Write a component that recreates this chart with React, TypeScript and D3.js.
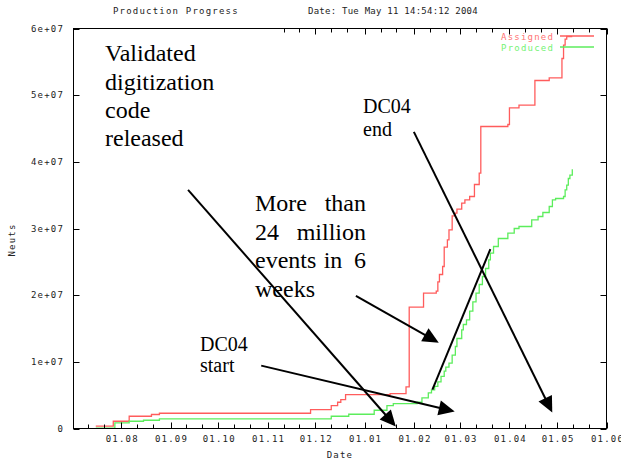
import React from "react";
import * as d3 from "d3";

const W = 621;
const H = 460;

// ---- data ----
const xDomain = ["2003-07-02", "2004-06-01"];
const yTickValues = [0, 1e7, 2e7, 3e7, 4e7, 5e7, 6e7];
const yTickLabels = ["0", "1e+07", "2e+07", "3e+07", "4e+07", "5e+07", "6e+07"];
const seriesNames = ["Assigned", "Produced"];

const assignedDates = [
  "2003-07-16", "2003-07-27", "2003-08-06", "2003-08-20", "2003-08-25", "2003-11-28",
  "2003-12-11", "2003-12-15", "2003-12-17", "2003-12-20", "2004-01-17", "2004-01-27",
  "2004-01-29", "2004-02-07", "2004-02-15", "2004-02-16", "2004-02-17", "2004-02-19",
  "2004-02-20", "2004-02-22", "2004-02-23", "2004-02-25", "2004-02-27", "2004-02-28",
  "2004-03-02", "2004-03-04", "2004-03-07", "2004-03-10", "2004-03-13", "2004-03-14",
  "2004-03-31", "2004-04-01", "2004-04-07", "2004-04-17", "2004-04-26", "2004-05-04",
  "2004-05-05", "2004-05-06", "2004-05-07", "2004-05-10T12:00Z",
];
const assignedValues = [
  0.35e6, 1.09e6, 1.84e6, 2.1e6, 2.29e6, 2.84e6,
  3.44e6, 3.94e6, 4.34e6, 5.09e6, 5.24e6, 6.24e6,
  18.2e6, 20.3e6, 20.6e6, 22.0e6, 23.1e6, 24.3e6,
  27.2e6, 28.3e6, 29.8e6, 31.9e6, 32.3e6, 32.9e6,
  33.8e6, 34.3e6, 34.8e6, 36.6e6, 38.3e6, 45.3e6,
  45.6e6, 48.1e6, 48.5e6, 52.2e6, 52.6e6, 55.5e6,
  57.5e6, 58.4e6, 58.8e6, 58.8e6,
];

const producedDates = [
  "2003-07-16", "2003-07-28", "2003-08-06", "2003-08-15", "2003-08-25", "2003-12-11",
  "2003-12-22", "2004-01-07", "2004-01-15", "2004-01-19", "2004-02-03", "2004-02-06",
  "2004-02-10", "2004-02-12", "2004-02-14", "2004-02-16", "2004-02-18", "2004-02-20",
  "2004-02-21", "2004-02-23", "2004-02-25", "2004-02-27", "2004-02-28", "2004-03-02",
  "2004-03-03", "2004-03-05", "2004-03-07", "2004-03-09", "2004-03-11", "2004-03-13",
  "2004-03-15", "2004-03-17", "2004-03-19", "2004-03-20", "2004-03-22", "2004-03-25",
  "2004-03-31", "2004-04-04", "2004-04-07", "2004-04-15", "2004-04-19", "2004-04-22",
  "2004-04-26", "2004-04-28", "2004-04-30", "2004-05-05", "2004-05-06", "2004-05-07",
  "2004-05-08", "2004-05-09", "2004-05-10T12:00Z",
];
const producedValues = [
  0.05e6, 0.85e6, 1.09e6, 1.24e6, 1.45e6, 1.84e6,
  2.14e6, 2.74e6, 3.44e6, 3.74e6, 3.94e6, 4.6e6,
  5.34e6, 5.8e6, 6.33e6, 7.0e6, 7.83e6, 8.6e6,
  9.2e6, 9.8e6, 11.0e6, 12.3e6, 13.5e6, 14.8e6,
  15.6e6, 16.3e6, 17.6e6, 19.0e6, 20.3e6, 21.6e6,
  22.8e6, 24.0e6, 25.3e6, 26.3e6, 27.3e6, 28.5e6,
  29.3e6, 30.0e6, 30.3e6, 31.3e6, 31.8e6, 32.4e6,
  33.3e6, 34.3e6, 34.5e6, 34.8e6, 35.8e6, 36.5e6,
  37.5e6, 38.0e6, 38.9e6,
];

// annotation arrows in data coordinates
const arrowFromDates = ["2003-09-12", "2003-10-28", "2003-12-26T12:00Z", "2004-02-12T14:00Z", "2004-01-31T22:00Z"];
const arrowFromValues = [35.8e6, 9.43e6, 19.9e6, 5.84e6, 44.5e6];
const arrowToDates = ["2004-01-20T14:00Z", "2004-02-26T14:00Z", "2004-02-16T14:00Z", "2004-03-20", "2004-04-27T22:00Z"];
const arrowToValues = [0.3e6, 2.54e6, 12.87e6, 26.9e6, 2.39e6];
const arrowHeads = [true, true, true, false, true];

// ---- layout ----
const PL = 73.5, PR = 606.5, PT = 28.5, PB = 428.5;
const RED = "#ff5c5c";
const GREEN = "#5ced5c";
const pixelFont: React.CSSProperties = {
  fontFamily: "DejaVu Sans Mono",
  fontSize: 9,
  letterSpacing: 1.2,
};

export default function App() {
  const x = d3.scaleUtc().domain(xDomain.map((d) => new Date(d))).range([PL, PR]);
  const y = d3.scaleLinear().domain([0, 6e7]).range([PB, PT]);
  const line = d3
    .line<[Date, number]>()
    .x((d) => x(d[0]))
    .y((d) => y(d[1]))
    .curve(d3.curveStepAfter);

  const assigned: [Date, number][] = assignedDates.map((d, i) => [new Date(d), assignedValues[i]]);
  const produced: [Date, number][] = producedDates.map((d, i) => [new Date(d), producedValues[i]]);

  const [d0, d1] = x.domain();
  const majorTicks = d3.utcMonth.range(d3.utcMonth.ceil(d0), d3.utcDay.offset(d1, 1));
  const minorTicks: Date[] = [];
  d3.utcMonth.range(d3.utcMonth.floor(d0), d1).forEach((m) => {
    [11, 21].forEach((day) => {
      const t = new Date(Date.UTC(m.getUTCFullYear(), m.getUTCMonth(), day));
      if (t >= d0 && t <= d1) minorTicks.push(t);
    });
  });
  const fmt = d3.utcFormat("%d.%m");

  const arrows = arrowFromDates.map((fd, i) => {
    const x1 = x(new Date(fd));
    const y1 = y(arrowFromValues[i]);
    const x2 = x(new Date(arrowToDates[i]));
    const y2 = y(arrowToValues[i]);
    const dx = x2 - x1, dy = y2 - y1;
    const len = Math.hypot(dx, dy);
    const ux = dx / len, uy = dy / len;
    const hl = 16, hw = 7.5;
    const bx = x2 - ux * hl, by = y2 - uy * hl;
    const head = arrowHeads[i]
      ? `${x2},${y2} ${bx - uy * hw},${by + ux * hw} ${bx + uy * hw},${by - ux * hw}`
      : null;
    return { x1, y1, x2: arrowHeads[i] ? bx + ux * 2 : x2, y2: arrowHeads[i] ? by + uy * 2 : y2, head };
  });

  return (
    <svg
      width={W}
      height={H}
      style={{ position: "absolute", left: 0, top: 0, background: "#fff" }}
    >
      <rect x={0} y={0} width={W} height={H} fill="#fff" />
      {/* title */}
      <text x={113} y={14} {...pixelFont} fill="#222">Production Progress</text>
      <text x={308} y={14} {...pixelFont} letterSpacing={0.3} fill="#222" textLength={170} lengthAdjust="spacing">
        Date: Tue May 11 14:54:12 2004
      </text>

      {/* curves */}
      <path d={line(assigned) || ""} fill="none" stroke={RED} strokeWidth={1.3} />
      <path d={line(produced) || ""} fill="none" stroke={GREEN} strokeWidth={1.3} />

      {/* frame */}
      <rect x={PL} y={PT} width={PR - PL} height={PB - PT} fill="none" stroke="#000" strokeWidth={1} />

      {/* x ticks */}
      {majorTicks.map((t, i) => (
        <g key={"M" + i}>
          <line x1={Math.round(x(t)) + 0.5} x2={Math.round(x(t)) + 0.5} y1={PB} y2={PB - 6} stroke="#000" />
          <line x1={Math.round(x(t)) + 0.5} x2={Math.round(x(t)) + 0.5} y1={PT} y2={PT + 6} stroke="#000" />
          <text x={x(t) + 1} y={442} textAnchor="middle" {...pixelFont} fill="#222">{fmt(t)}</text>
        </g>
      ))}
      {minorTicks.map((t, i) => (
        <g key={"m" + i}>
          <line x1={Math.round(x(t)) + 0.5} x2={Math.round(x(t)) + 0.5} y1={PB} y2={PB - 4} stroke="#000" />
          <line x1={Math.round(x(t)) + 0.5} x2={Math.round(x(t)) + 0.5} y1={PT} y2={PT + 4} stroke="#000" />
        </g>
      ))}

      {/* y ticks */}
      {yTickValues.map((v, i) => (
        <g key={"y" + i}>
          <line x1={PL} x2={PL + 6} y1={Math.round(y(v)) + 0.5} y2={Math.round(y(v)) + 0.5} stroke="#000" />
          <line x1={PR} x2={PR - 6} y1={Math.round(y(v)) + 0.5} y2={Math.round(y(v)) + 0.5} stroke="#000" />
          <text x={64} y={y(v) + 3} textAnchor="end" {...pixelFont} fill="#222">{yTickLabels[i]}</text>
        </g>
      ))}

      {/* axis titles */}
      <text x={340} y={458} textAnchor="middle" {...pixelFont} fill="#222">Date</text>
      <text transform="translate(15,240) rotate(-90)" textAnchor="middle" {...pixelFont} fill="#222">Neuts</text>

      {/* legend */}
      <text x={554} y={39.5} textAnchor="end" {...pixelFont} fill="#ff7474">{seriesNames[0]}</text>
      <line x1={560} x2={594} y1={36} y2={36} stroke={RED} strokeWidth={1.3} />
      <text x={554} y={50.5} textAnchor="end" {...pixelFont} fill="#74f274">{seriesNames[1]}</text>
      <line x1={560} x2={594} y1={47} y2={47} stroke={GREEN} strokeWidth={1.3} />

      {/* white text box covering top ticks */}
      <rect x={80} y={29} width={202} height={135} fill="#fff" />

      {/* annotations */}
      <g fontFamily="Liberation Serif" fill="#000">
        <g fontSize={24}>
          <text x={105} y={61}>Validated</text>
          <text x={105} y={90}>digitization</text>
          <text x={105} y={118}>code</text>
          <text x={105} y={146}>released</text>
        </g>
        <g fontSize={20}>
          <text x={363} y={113}>DC04</text>
          <text x={363} y={136}>end</text>
          <text x={200} y={351}>DC04</text>
          <text x={200} y={372}>start</text>
        </g>
        <g fontSize={24}>
          <text x={255} y={211}>More</text>
          <text x={366} y={211} textAnchor="end">than</text>
          <text x={255} y={239.5}>24</text>
          <text x={366} y={239.5} textAnchor="end">million</text>
          <text x={255} y={268}>events</text>
          <text x={333} y={268} textAnchor="middle">in</text>
          <text x={366} y={268} textAnchor="end">6</text>
          <text x={255} y={296.5}>weeks</text>
        </g>
      </g>

      {arrows.map((a, i) => (
        <g key={"a" + i}>
          <line x1={a.x1} y1={a.y1} x2={a.x2} y2={a.y2} stroke="#000" strokeWidth={2} />
          {a.head && <polygon points={a.head} fill="#000" />}
        </g>
      ))}
    </svg>
  );
}
